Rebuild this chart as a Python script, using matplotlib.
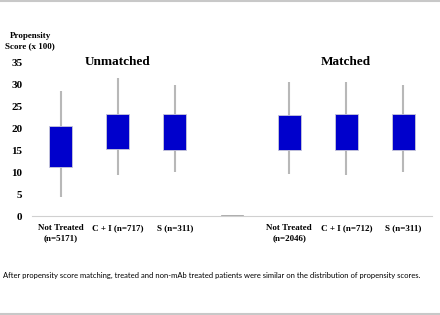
import matplotlib
matplotlib.use("Agg")
import matplotlib.pyplot as plt
from matplotlib.lines import Line2D
import numpy as np

categories = ["Not Treated\n(n=5171)", "C + I (n=717)", "S (n=311)", "",
              "Not Treated\n(n=2046)", "C + I (n=712)", "S (n=311)"]
whisker_low = [4.4, 9.25, 10.0, 0, 9.5, 9.25, 10.0]
q1 = [11.1, 15.2, 15.0, 0, 15.0, 15.1, 15.0]
q3 = [20.5, 23.2, 23.2, 0, 22.9, 23.2, 23.2]
whisker_high = [28.4, 31.3, 29.8, 0, 30.5, 30.5, 29.8]
yticks = [0, 5, 10, 15, 20, 25, 30, 35]
group_titles = ["Unmatched", "Matched"]
caption = ("After propensity score matching, treated and non-mAb treated patients "
           "were similar on the distribution of propensity scores.")

serif = "Liberation Serif"

fig = plt.figure(figsize=(4.4, 3.15), dpi=100)
ax = fig.add_axes([32/440, 1-216/315, 400/440, (216-62)/315])

x = np.arange(len(categories))
lo = np.array(whisker_low); hi = np.array(whisker_high)
b = np.array(q1); t = np.array(q3)
real = hi > 0
ax.vlines(x[real], lo[real], hi[real], colors="#b8b8b8", linewidth=1.5, zorder=1)
ax.bar(x[real], (t - b)[real], bottom=b[real], width=0.40, color="#0000cc",
       edgecolor="#c8c8d8", linewidth=0.6, zorder=2)
# empty separator category drawn as flat gray box
ax.bar(x[~real], (t - b)[~real] + 0.3, bottom=b[~real], width=0.40, color="#a0a0a0",
       edgecolor="#a0a0a0", linewidth=0.5, zorder=2)

ax.set_xlim(-0.5, len(categories) - 0.5)
ax.set_ylim(0, 35)
ax.set_yticks(yticks)
ax.set_yticklabels([str(v) for v in yticks], fontfamily=serif, fontweight="bold", fontsize=8)
ax.set_xticks(x)
ax.set_xticklabels(categories, fontfamily=serif, fontweight="bold", fontsize=6.5,
                   linespacing=1.3)
ax.tick_params(axis="both", length=0)
ax.tick_params(axis="y", pad=7)
ax.tick_params(axis="x", pad=6)
for s in ["top", "right", "left"]:
    ax.spines[s].set_visible(False)
ax.spines["bottom"].set_color("#d0d0d0")
ax.spines["bottom"].set_linestyle((0, (1, 1)))
ax.spines["bottom"].set_linewidth(0.8)

ax.text(1, 35, group_titles[0], ha="center", va="center", fontfamily=serif,
        fontweight="bold", fontsize=9.5)
ax.text(5, 35, group_titles[1], ha="center", va="center", fontfamily=serif,
        fontweight="bold", fontsize=9.5)

fig.text(30/440, 1-41/315, "Propensity\nScore (x 100)", ha="center", va="center",
         fontfamily=serif, fontweight="bold", fontsize=6.5, linespacing=1.3)

fig.text(3/440, 1-275/315, caption, ha="left", va="center", fontfamily="Lato",
         fontsize=5.52)

fig.add_artist(Line2D([0, 1], [1-1/315, 1-1/315], transform=fig.transFigure,
                      color="#c8c8c8", linewidth=1.5))
fig.add_artist(Line2D([0, 1], [1.5/315, 1.5/315], transform=fig.transFigure,
                      color="#c8c8c8", linewidth=1.5))

fig.savefig("out.png", dpi=100)
